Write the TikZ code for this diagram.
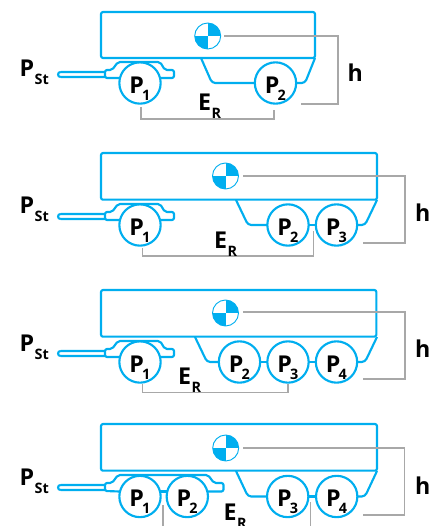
\documentclass[tikz,border=0pt]{standalone}
\usepackage{fontspec}
\setmainfont{Open Sans}
\definecolor{lineblue}{HTML}{00AEEF}
\definecolor{linegray}{HTML}{A8A8A8}
\newcommand\wl[1]{\raisebox{-7.5pt}[0pt][0pt]{\makebox[0pt][l]{\hspace*{-8pt}\fontsize{17.4}{18}\selectfont P\kern-1.3pt\raisebox{-5.6pt}{\fontsize{10.8}{12}\selectfont #1}}}}
\newcommand\sublab[2]{\fontsize{17.4}{18}\selectfont #1\kern 0.4pt\raisebox{-6pt}{\fontsize{10.8}{12}\selectfont #2}}
\newcommand\barend{(60.5,72) -- (105,72) (60.5,77) -- (105,77) (60.5,72) .. controls (57.3,72) and (57.3,77) .. (60.5,77)}
\tikzset{
  x=0.75pt,y=-0.75pt,
  blueline/.style={draw=lineblue,line width=1.6pt,line join=round,rounded corners=1.5pt},
  body/.style={rectangle,blueline,anchor=north west,inner sep=0pt,outer sep=0pt},
  wheel/.style={circle,draw=lineblue,line width=1.6pt,fill=white,minimum size=31pt,inner sep=0pt,outer sep=0pt,font=\bfseries},
  cog/.style={circle,draw=lineblue,line width=.7pt,fill=white,minimum size=19.5pt,inner sep=0pt,outer sep=0pt,
    path picture={
      \fill[lineblue] (path picture bounding box.center) rectangle (path picture bounding box.north east);
      \fill[lineblue] (path picture bounding box.center) rectangle (path picture bounding box.south west);
    }},
  grayline/.style={draw=linegray,line width=1pt},
  lab/.style={anchor=base west,inner sep=0pt,outer sep=0pt,font=\bfseries},
  hlab/.style={lab,font=\bfseries\fontsize{17.4}{18}\selectfont},
}
\begin{document}
\begin{tikzpicture}
\useasboundingbox (0,0) rectangle (438,526);
\clip (0,0) rectangle (438,526);
% ---------- panel 1
\node[body,minimum width=160.5pt,minimum height=34.5pt] (b1) at (101,12) {};
\node[wheel] (a1) at (140,83) {\wl{1}};
\node[wheel] (a2) at (275.5,83) {\wl{2}};
\draw[lineblue,line width=1.6pt] \barend;
\draw[blueline] (a1.166) -- (105,78) -- (105,70) -- (112,70) -- (118,62) -- (160,62) -- (165,70) -- (174,70) -- (174,78) -- (a1.14);
\draw[blueline,rounded corners=2.5pt] (201,58) -- (212,83) -- (a2.west);
\draw[blueline,rounded corners=2.5pt] (a2.east) -- (305,83) -- (315,58);
\node[cog] (c1) at (207.7,36) {};
\coordinate (h1a) at (224,36); \coordinate (h1b) at (338,36); \coordinate (h1c) at (338,104); \coordinate (h1d) at (301,104);
\draw[grayline] (h1a) -- (h1b) -- (h1c) -- (h1d);
\draw[grayline] (141,107) -- (141,119) -- (274,119) -- (274,110);
\node[lab] (ps1) at (19.5,76) {\sublab{P}{St}};
\node[lab] (er1) at (198,110.5) {\sublab{E}{R}};
\node[hlab] (hh1) at (347.5,81) {h};
% ---------- panel 2
\begin{scope}[shift={(0,142)}]
\node[body,minimum width=207pt,minimum height=35pt] (b2) at (101,11) {};
\node[wheel] (d1) at (140,83) {\wl{1}};
\node[wheel] (d2) at (288,83) {\wl{2}};
\node[wheel] (d3) at (336.5,83) {\wl{3}};
\draw[lineblue,line width=1.6pt] \barend;
\draw[blueline] (d1.166) -- (105,78) -- (105,70) -- (112,70) -- (118,62) -- (160,62) -- (165,70) -- (174,70) -- (174,78) -- (d1.14);
\draw[blueline,rounded corners=2.5pt] (236,58) -- (248,83) -- (d2.west);
\draw[blueline] (d2.east) -- (d3.west);
\draw[blueline,rounded corners=2.5pt] (d3.east) -- (365,83) -- (377,58);
\node[cog] (c2) at (225.5,34) {};
\coordinate (h2a) at (243,34); \coordinate (h2b) at (405,34); \coordinate (h2c) at (405,101); \coordinate (h2d) at (363,101);
\draw[grayline] (h2a) -- (h2b) -- (h2c) -- (h2d);
\draw[grayline] (142.7,106) -- (142.7,114) -- (313.5,114) -- (313.5,89);
\node[lab] (ps2) at (19.5,71) {\sublab{P}{St}};
\node[lab] (er2) at (214,106) {\sublab{E}{R}};
\node[hlab] (hh2) at (415,79.7) {h};
\end{scope}
% ---------- panel 3
\begin{scope}[shift={(0,279)}]
\node[body,minimum width=206.5pt,minimum height=35pt] (b3) at (101,11) {};
\node[wheel] (e1) at (140,83) {\wl{1}};
\node[wheel] (e2) at (239.5,83) {\wl{2}};
\node[wheel] (e3) at (288,83) {\wl{3}};
\node[wheel] (e4) at (336.5,83) {\wl{4}};
\draw[lineblue,line width=1.6pt] \barend;
\draw[blueline] (e1.166) -- (105,78) -- (105,70) -- (112,70) -- (118,62) -- (160,62) -- (165,70) -- (174,70) -- (174,78) -- (e1.14);
\draw[blueline,rounded corners=2.5pt] (195,58) -- (207,83) -- (e2.west);
\draw[blueline] (e2.east) -- (e3.west);
\draw[blueline] (e3.east) -- (e4.west);
\draw[blueline,rounded corners=2.5pt] (e4.east) -- (365,83) -- (377,58);
\node[cog] (c3) at (225.5,34) {};
\coordinate (h3a) at (243,33); \coordinate (h3b) at (405,33); \coordinate (h3c) at (405,100); \coordinate (h3d) at (363,100);
\draw[grayline] (h3a) -- (h3b) -- (h3c) -- (h3d);
\draw[grayline] (142.7,105) -- (142.7,113.5) -- (288,113.5) -- (288,105);
\node[lab] (ps3) at (19.5,72) {\sublab{P}{St}};
\node[lab] (er3) at (178,105) {\sublab{E}{R}};
\node[hlab] (hh3) at (415,78.7) {h};
\end{scope}
% ---------- panel 4
\begin{scope}[shift={(0,413)}]
\node[body,minimum width=207pt,minimum height=35pt] (b4) at (101,11) {};
\node[wheel] (f1) at (140,83.5) {\wl{1}};
\node[wheel] (f2) at (187.3,83.5) {\wl{2}};
\node[wheel] (f3) at (287.7,83.5) {\wl{3}};
\node[wheel] (f4) at (336.7,83.5) {\wl{4}};
\draw[lineblue,line width=1.6pt] \barend;
\draw[blueline] (f1.166) -- (105,78) -- (105,70) -- (112,70) -- (118,62) -- (208,62) -- (214,70) -- (223.5,70) -- (223.5,78.5) -- (f2.14);
\draw[blueline] (f1.14) -- (f2.166);
\draw[blueline,rounded corners=2.5pt] (236,58) -- (248,83.5) -- (f3.west);
\draw[blueline] (f3.east) -- (f4.west);
\draw[blueline,rounded corners=2.5pt] (f4.east) -- (365,83.5) -- (377,58);
\node[cog] (c4) at (225.7,35) {};
\coordinate (h4a) at (243,35); \coordinate (h4b) at (404.5,35); \coordinate (h4c) at (404.5,102); \coordinate (h4d) at (363,102);
\draw[grayline] (h4a) -- (h4b) -- (h4c) -- (h4d);
\coordinate (g1) at (163,92); \coordinate (g2) at (163,113);
\coordinate (g3) at (310.5,89); \coordinate (g4) at (310.5,113);
\draw[grayline,line width=.8pt] (g1) -- (g2) (g3) -- (g4);
\node[lab] (ps4) at (19.5,72) {\sublab{P}{St}};
\node[lab] (er4) at (223.5,107) {\sublab{E}{R}};
\node[hlab] (hh4) at (415,81) {h};
\end{scope}
\end{tikzpicture}
\end{document}
